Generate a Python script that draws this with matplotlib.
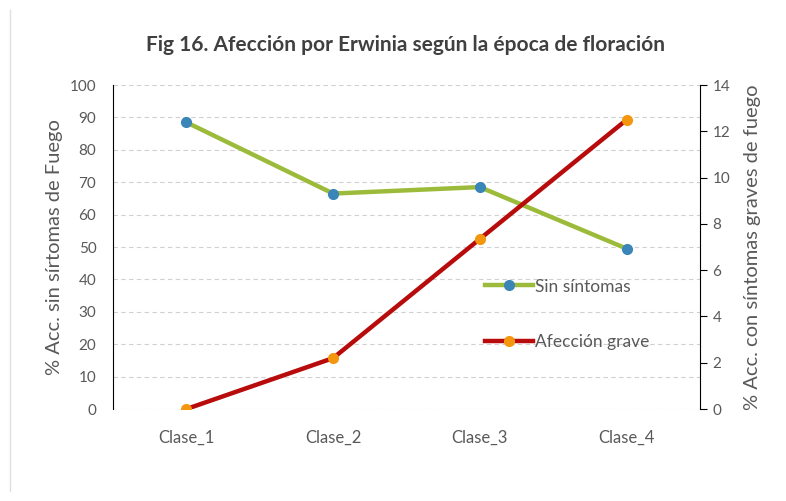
import matplotlib
matplotlib.use("Agg")
import matplotlib.pyplot as plt
from matplotlib.lines import Line2D

plt.rcParams["font.family"] = ["Lato", "DejaVu Sans"]

categories = ["Clase_1", "Clase_2", "Clase_3", "Clase_4"]
sin_sintomas = [88.5, 66.5, 68.5, 49.5]      # left axis, %
afeccion_grave = [0.0, 2.2, 7.35, 12.5]      # right axis, %
left_ticks = list(range(0, 101, 10))
right_ticks = list(range(0, 15, 2))

GREY = "#595959"

fig = plt.figure(figsize=(7.86, 5.01), dpi=100)
ax = fig.add_axes([0.1438, 0.1836, 0.7468, 0.6467])
ax2 = ax.twinx()

x = range(len(categories))
l1, = ax.plot(x, sin_sintomas, color="#9DBB3A", linewidth=3.2,
              marker="o", markersize=7, markerfacecolor="#3A86B8",
              markeredgecolor="#3A86B8", label="Sin síntomas", zorder=3)
l2, = ax2.plot(x, afeccion_grave, color="#B80C0C", linewidth=3.2,
               marker="o", markersize=7, markerfacecolor="#F4970F",
               markeredgecolor="#F4970F", label="Afección grave", zorder=3)

ax.set_xlim(-0.5, len(categories) - 0.5)
ax.set_ylim(0, 100)
ax.set_yticks(left_ticks)
ax.set_xticks(list(x))
ax.set_xticklabels(categories)
ax2.set_ylim(0, 14)
ax2.set_yticks(right_ticks)

ax.grid(axis="y", color="#D0D0D0", linestyle=(0, (4, 3)), linewidth=0.8)
ax.set_axisbelow(True)
for side in ("top", "bottom", "right"):
    ax.spines[side].set_visible(False)
for side in ("top", "bottom", "left"):
    ax2.spines[side].set_visible(False)
ax.spines["left"].set_color("black")
ax2.spines["right"].set_color("black")

ax.tick_params(axis="y", length=0, pad=12, labelsize=11, labelcolor=GREY)
ax.tick_params(axis="x", length=0, pad=15, labelsize=12, labelcolor=GREY)
ax2.tick_params(axis="y", length=5, direction="out", color="black",
                pad=4, labelsize=11, labelcolor=GREY)

ax.set_ylabel("% Acc. sin sírtomas de Fuego", fontsize=14.5, color=GREY,
              labelpad=5)
ax2.set_ylabel("% Acc. con síntomas graves de fuego", fontsize=14.5,
               color=GREY, labelpad=10)

fig.text(0.516, 0.91, "Fig 16. Afección por Erwinia según la época de floración",
         ha="center", va="center", fontsize=15, fontweight="bold",
         color="#404040")

fig.legend(handles=[l1, l2], loc="upper left", bbox_to_anchor=(0.617, 0.444),
           frameon=False, fontsize=12.5, labelcolor=GREY, handlelength=2.75,
           handletextpad=0.12, labelspacing=2.3, borderpad=0,
           borderaxespad=0)

# faint border of the chart area on the left
fig.add_artist(Line2D([0.013, 0.013], [0.02, 0.98], color="#E0E0E0",
                      linewidth=1, transform=fig.transFigure))

fig.savefig("out.png", dpi=100)
